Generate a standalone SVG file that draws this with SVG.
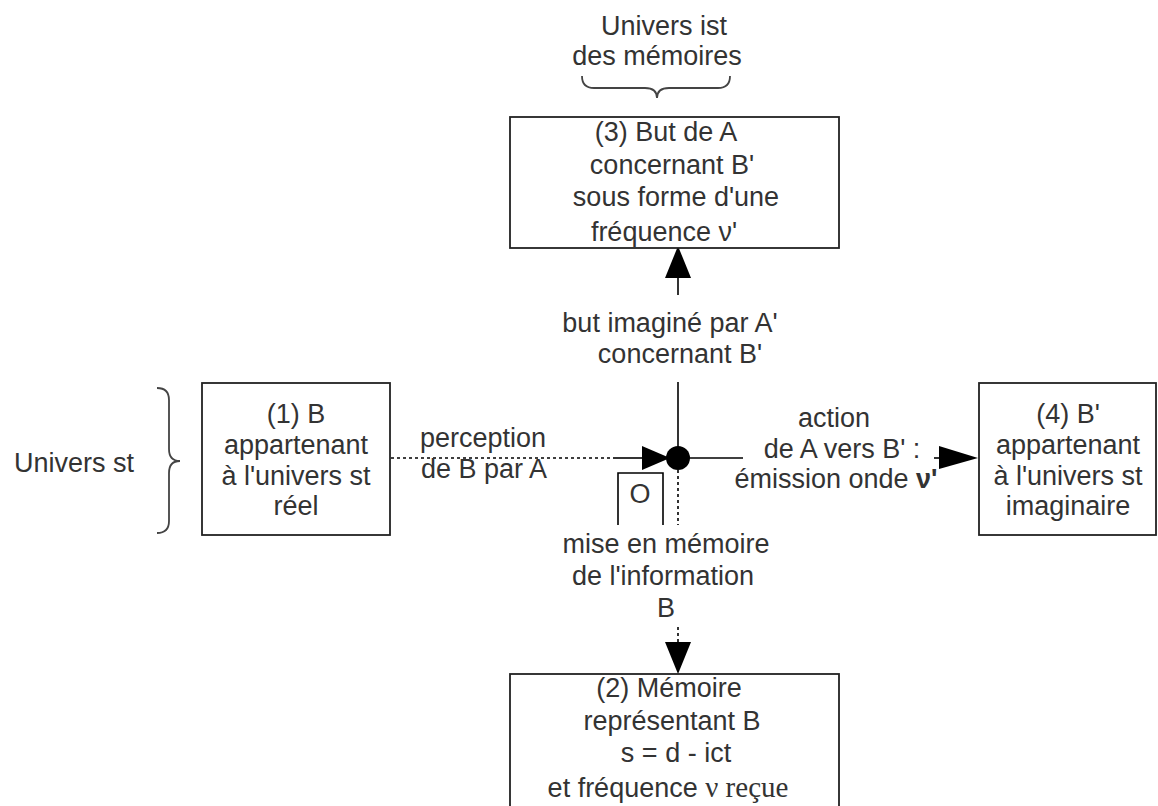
<svg xmlns="http://www.w3.org/2000/svg" width="1158" height="806" viewBox="0 0 1158 806">
<style>
text{font-family:"Liberation Sans",Arial,sans-serif;font-size:27px;fill:#333;text-anchor:middle}
.box{fill:#fff;stroke:#222;stroke-width:1.8}
.ln{stroke:#000;stroke-width:1.6;fill:none}
.dot{stroke:#000;stroke-width:1.6;fill:none;stroke-dasharray:3 3}
.brace{stroke:#444;stroke-width:1.8;fill:none}
.ah{fill:#000}
.serif{font-family:"Liberation Serif","Times New Roman",serif;font-size:29px}
</style>
<rect width="1158" height="806" fill="#fff"/>
<g id="label-univers-ist">
<text x="664" y="35">Univers ist</text>
<text x="657" y="65">des mémoires</text>
<path class="brace" d="M582,76 Q582,88 594,88 L645,88 Q657,88 657,98 Q657,88 669,88 L718,88 Q730,88 730,76"/>
</g>
<g id="label-univers-st">
<text x="74" y="472">Univers st</text>
<path class="brace" d="M157,388 Q169,388 169,400 L169,449 Q169,461 180,461 Q169,461 169,473 L169,521 Q169,533 157,533"/>
</g>
<g id="connectors">
<line class="dot" x1="391" y1="458" x2="613" y2="458"/>
<line class="ln" x1="613" y1="458" x2="644" y2="458"/>
<polygon class="ah" points="642,446 670,458 642,470"/>
<line class="ln" x1="678" y1="458" x2="743" y2="458"/>
<line class="ln" x1="934" y1="458" x2="942" y2="458"/>
<polygon class="ah" points="939,446 978,458 939,469"/>
<line class="ln" x1="678" y1="382" x2="678" y2="458"/>
<line class="ln" x1="678" y1="277" x2="678" y2="295"/>
<polygon class="ah" points="665,278 678,246 691,278"/>
<line class="dot" x1="678" y1="470" x2="678" y2="525"/>
<line class="dot" x1="678" y1="627" x2="678" y2="643"/>
<polygon class="ah" points="665,642 691,642 678,674"/>
<circle cx="678" cy="458" r="12" fill="#000"/>
</g>
<g id="node-o">
<path class="ln" d="M618,525 L618,473 L663,473 L663,525"/>
<text x="640" y="503">O</text>
</g>
<g id="edge-labels">
<text x="670" y="332">but imaginé par A'</text>
<text x="680" y="363">concernant B'</text>
<text x="483" y="447">perception</text>
<text x="484" y="478">de B par A</text>
<text x="834" y="427">action</text>
<text x="842" y="458">de A vers B' :</text>
<text x="836" y="488">émission onde <tspan font-weight="bold">ν'</tspan></text>
<text x="666" y="553">mise en mémoire</text>
<text x="663" y="585">de l'information</text>
<text x="666" y="617">B</text>
</g>
<g id="node-3">
<rect class="box" x="510" y="117" width="329" height="131"/>
<text x="666" y="141">(3) But de A</text>
<text x="672" y="174">concernant B'</text>
<text x="676" y="206">sous forme d'une</text>
<text x="664" y="241">fréquence ν'</text>
</g>
<g id="node-1">
<rect class="box" x="202" y="383" width="188" height="152"/>
<text x="296" y="423">(1) B</text>
<text x="296" y="454">appartenant</text>
<text x="296" y="485">à l'univers st</text>
<text x="296" y="515">réel</text>
</g>
<g id="node-4">
<rect class="box" x="979" y="383" width="177" height="152"/>
<text x="1068" y="423">(4) B'</text>
<text x="1068" y="454">appartenant</text>
<text x="1068" y="485">à l'univers st</text>
<text x="1068" y="515">imaginaire</text>
</g>
<g id="node-2">
<rect class="box" x="510" y="674" width="329" height="140"/>
<text x="669" y="697">(2) Mémoire</text>
<text x="672" y="730">représentant B</text>
<text x="676" y="762">s = d - ict</text>
<text x="668" y="797">et fréquence <tspan class="serif">ν reçue</tspan></text>
</g>
</svg>
